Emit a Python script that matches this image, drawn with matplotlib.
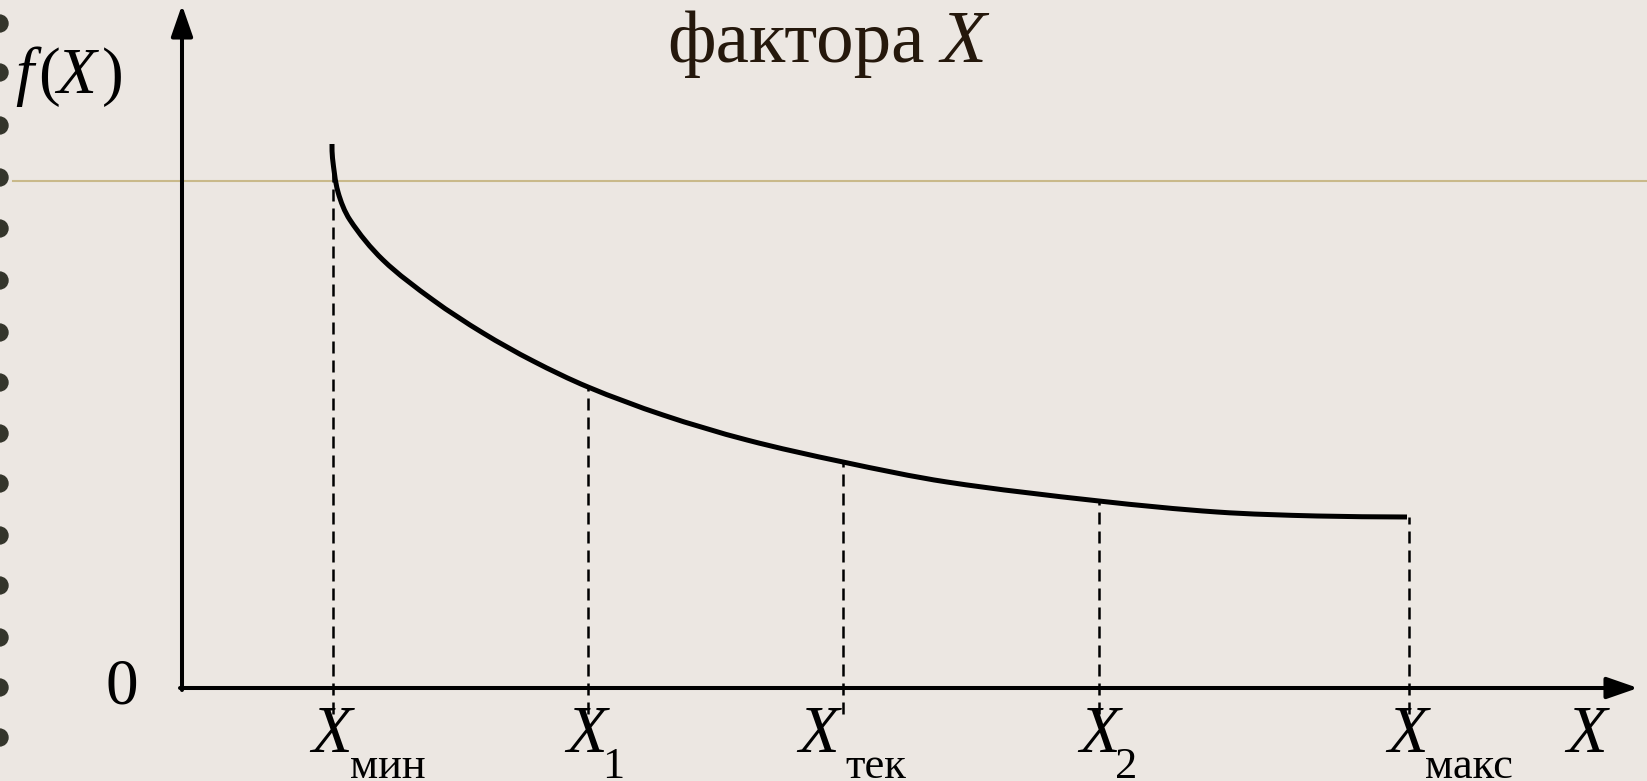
import numpy as np
import matplotlib.pyplot as plt
from matplotlib.path import Path
from matplotlib.patches import PathPatch

# units: 1 = 100 px of the original picture, origin at the axes crossing
curve_x = [1.50, 1.505, 1.56, 1.68, 2.01, 2.51, 3.01, 3.51, 4.06, 4.81, 5.65, 6.61, 7.65, 9.17, 10.35, 11.35, 12.25]
curve_y = [5.44, 5.30, 4.96, 4.68, 4.28, 3.88, 3.55, 3.27, 3.01, 2.73, 2.48, 2.26, 2.06, 1.87, 1.76, 1.72, 1.71]

mark_x = [1.51, 4.06, 6.61, 9.17, 12.27]
mark_top = [5.30, 3.01, 2.26, 1.87, 1.71]
label_x = [1.50, 4.05, 6.37, 9.18, 12.26]
sub_x = [1.68, 4.20, 6.63, 9.33, 12.43]
sub_labels = ['мин', '1', 'тек', '2', 'макс']

level_y = 5.07
bullet_y = [6.65, 6.16, 5.63, 5.11, 4.60, 4.08, 3.56, 3.06, 2.55, 2.05, 1.53, 1.03, 0.51, 0.01, -0.49]

bg = '#ECE7E2'
serif = 'Liberation Serif'


def smooth_path(xs, ys):
    # cubic Bezier through the read points (chord-length Hermite tangents)
    p = np.column_stack([xs, ys])
    d = np.linalg.norm(np.diff(p, axis=0), axis=1)
    t = np.concatenate([[0], np.cumsum(d)])
    m = np.zeros_like(p)
    m[0] = (p[1] - p[0]) / d[0]
    m[-1] = (p[-1] - p[-2]) / d[-1]
    for i in range(1, len(p) - 1):
        m[i] = (p[i + 1] - p[i - 1]) / (t[i + 1] - t[i - 1])
    verts = [p[0]]
    codes = [Path.MOVETO]
    for i in range(len(p) - 1):
        verts += [p[i] + m[i] * d[i] / 3, p[i + 1] - m[i + 1] * d[i] / 3, p[i + 1]]
        codes += [Path.CURVE4] * 3
    return Path(verts, codes)


fig = plt.figure(figsize=(16.47, 7.81), dpi=100)
fig.patch.set_facecolor(bg)
ax = fig.add_axes([0, 0, 1, 1])
ax.set_facecolor(bg)
ax.set_xlim(-1.82, 14.65)
ax.set_ylim(-0.93, 6.88)
ax.axis('off')

# decorative bullets on the left edge
ax.scatter([-1.83] * len(bullet_y), bullet_y, s=150, marker='o', color='#34352b',
           zorder=1, clip_on=False)

# horizontal level line
ax.plot([-1.69, 14.65], [level_y, level_y], color='#C9B98A', lw=1.5, zorder=1)

# axes with arrows
arrow = dict(arrowstyle='-|>,head_length=0.95,head_width=0.33', mutation_scale=20,
             lw=2.9, color='black', shrinkA=0, shrinkB=0)
ax.annotate('', xy=(0, 6.83), xytext=(0, -0.02), arrowprops=arrow)
ax.annotate('', xy=(14.56, 0), xytext=(-0.02, 0), arrowprops=arrow)

# dashed drop lines
ax.vlines(mark_x, -0.26, mark_top, colors='black', lw=1.8,
          linestyles=[(0, (4.8, 2.8))], zorder=2)

# curve
ax.add_patch(PathPatch(smooth_path(curve_x, curve_y), facecolor='none',
                       edgecolor='black', lw=3.6, capstyle='butt', zorder=3))

# labels under the axis
for lx, sx, s in zip(label_x, sub_x, sub_labels):
    ax.text(lx, -0.64, 'X', fontsize=48, family=serif, style='italic',
            ha='center', va='baseline')
    ax.text(sx, -0.90, s, fontsize=32, family=serif, ha='left', va='baseline')

ax.text(14.05, -0.64, 'X', fontsize=48, family=serif, style='italic',
        ha='center', va='baseline')
ax.text(-0.60, -0.15, '0', fontsize=47, family=serif, ha='center', va='baseline')

# y label f(X)
ax.text(-1.67, 5.95, 'f', fontsize=47, family=serif, style='italic', ha='left', va='baseline')
ax.text(-1.44, 5.95, '(', fontsize=47, family=serif, ha='left', va='baseline')
ax.text(-1.26, 5.95, 'X', fontsize=47, family=serif, style='italic', ha='left', va='baseline')
ax.text(-0.80, 5.95, ')', fontsize=47, family=serif, ha='left', va='baseline')

# title fragment
ax.text(4.85, 6.26, 'фактора', fontsize=54, family=serif, color='#25180C',
        ha='left', va='baseline')
ax.text(7.58, 6.26, 'X', fontsize=54, family=serif, style='italic', color='#25180C',
        ha='left', va='baseline')

fig.savefig('out.png', dpi=100, facecolor=bg)
